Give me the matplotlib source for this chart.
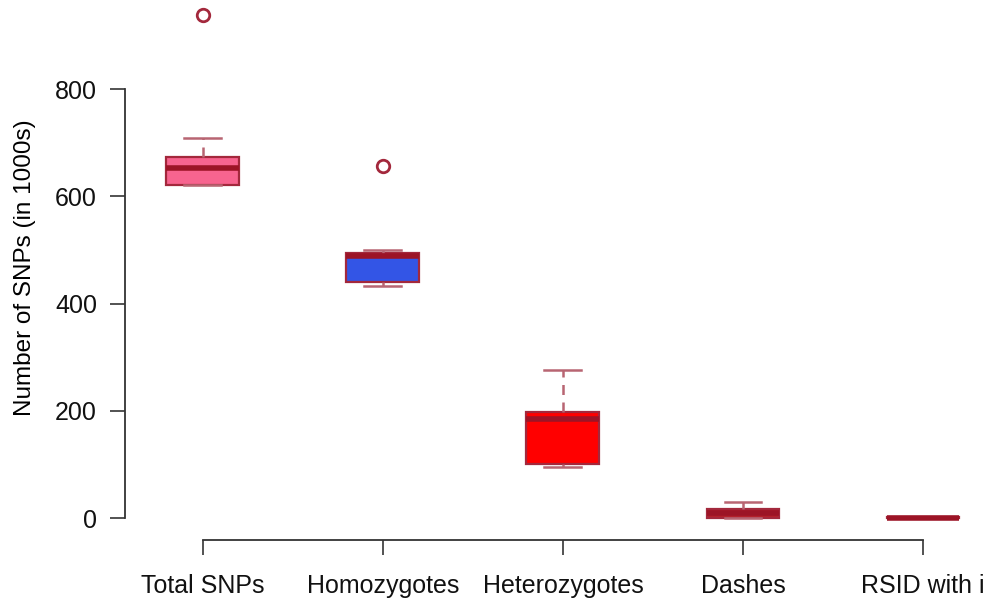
import numpy as np
import matplotlib
matplotlib.use("Agg")
from matplotlib import pyplot as plt

# Box statistics (in 1000s of SNPs)
categories = ["Total SNPs", "Homozygotes", "Heterozygotes", "Dashes", "RSID with i"]
whisker_low = [621, 433, 95, 0, 0]
quartile_1 = [621, 440, 101, 0, 0]
medians = [653, 489, 185, 9, 1]
quartile_3 = [673, 494, 198, 17, 2]
whisker_high = [709, 500, 276, 30, 2]
outliers = [[938], [657], [], [], []]

fill_colors = ["#f7648f", "#3355e6", "#ff0000", "#b5202a", "#a52535"]
edge_color = "#a3283c"
whisker_color = "#b86572"
median_color = "#9c1426"

plt.rcParams['font.family'] = ['Liberation Sans', 'DejaVu Sans']

fig = plt.figure(figsize=(9.91, 6.01), dpi=100)
ax = fig.add_axes([0.126, 0.1023, 0.874, 0.9057])

stats = []
for i, name in enumerate(categories):
    stats.append(dict(label=name, whislo=whisker_low[i], q1=quartile_1[i],
                      med=medians[i], q3=quartile_3[i], whishi=whisker_high[i],
                      fliers=outliers[i]))

positions = np.arange(1, len(categories) + 1)
bp = ax.bxp(stats, positions=positions, widths=0.405, patch_artist=True,
            showfliers=True,
            boxprops=dict(edgecolor=edge_color, linewidth=1.6),
            medianprops=dict(color=median_color, linewidth=4, solid_capstyle='butt'),
            whiskerprops=dict(color=whisker_color, linewidth=1.8, linestyle=(0, (4, 3))),
            capprops=dict(color=whisker_color, linewidth=1.8),
            flierprops=dict(marker='o', markersize=9, markerfacecolor='none',
                            markeredgecolor=edge_color, markeredgewidth=2))
for patch, color in zip(bp['boxes'], fill_colors):
    patch.set_facecolor(color)
for cap in bp['caps']:
    xd = cap.get_xdata()
    c = xd.mean()
    cap.set_xdata([c - 0.1025, c + 0.1025])

ax.set_xlim(1 - 78 / 180, 5 + 68 / 180)
ax.set_ylim(-40, 975)
ax.set_yticks([0, 200, 400, 600, 800])
ax.set_xticks(positions)
ax.set_xticklabels(categories)
ax.set_ylabel('Number of SNPs (in 1000s)', fontsize=17.5, labelpad=14)

for side in ['top', 'right']:
    ax.spines[side].set_visible(False)
ax.spines['left'].set_bounds(0, 800)
ax.spines['bottom'].set_bounds(1, 5)
for side in ['left', 'bottom']:
    ax.spines[side].set_color('#333333')
    ax.spines[side].set_linewidth(1.3)
ax.tick_params(axis='both', length=11, width=1.3, color='#444444',
               labelsize=18, labelcolor='#111111')
ax.tick_params(axis='y', pad=9)
ax.tick_params(axis='x', pad=14)

fig.savefig('out.png', dpi=100)
